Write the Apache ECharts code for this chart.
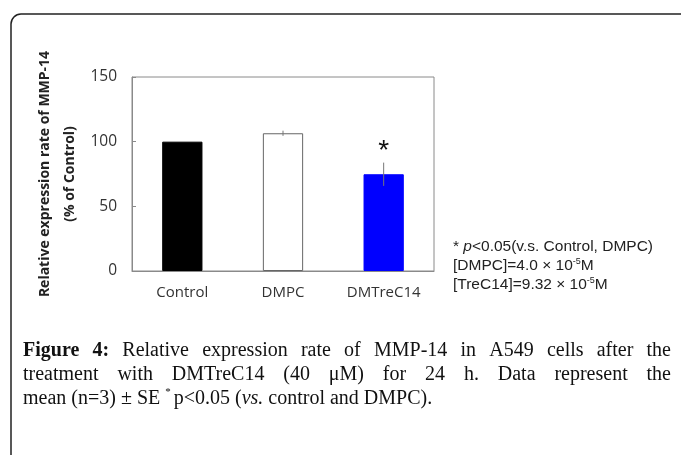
<!DOCTYPE html>
<html>
<head>
<meta charset="utf-8">
<script src="https://cdn.jsdelivr.net/npm/echarts@6/dist/echarts.min.js"></script>
<style>
  html, body { margin: 0; padding: 0; background: #fff; }
  #chart { width: 681px; height: 455px; }
</style>
</head>
<body>
<div id="chart"></div>
<script>
// data
var categories = ['Control', 'DMPC', 'DMTreC14'];
var meanValues = [100, 106.5, 74.8];
var seValues = [0, 2, 9];
var sigMarks = ['', '', '*'];
var barColors = ['#000000', '#ffffff', '#0000ff'];
var yMin = 0, yMax = 150, yStep = 50;

var noteLines = [
    '* {i|p}<0.05(v.s. Control, DMPC)',
    '[DMPC]=4.0 × 10{sup|-5}M',
    '[TreC14]=9.32 × 10{sup|-5}M'
];
var captionLine1 = [['Figure', 1], ['4:', 1], 'Relative', 'expression', 'rate', 'of', 'MMP-14', 'in', 'A549', 'cells', 'after', 'the'];
var captionLine2 = ['treatment', 'with', 'DMTreC14', '(40', 'μM)', 'for', '24', 'h.', 'Data', 'represent', 'the'];
var captionLine3 = 'mean (n=3) ± SE {sup|*}p<0.05 ({i|vs.} control and DMPC).';

var serif = '"Liberation Serif", "DejaVu Serif", serif';
var capSize = 20;
var sans = '"Liberation Sans", Arial, sans-serif';
var calib = '"Open Sans", "Noto Sans", sans-serif';

var myChart = echarts.init(document.getElementById('chart'), null, {renderer: 'canvas'});

// lay out a justified caption line word by word
var measureCtx = document.createElement('canvas').getContext('2d');
function justifyLine(words, y, x0, x1){
    var items = words.map(function(w){
        var txt = typeof w === 'string' ? w : w[0];
        var bold = typeof w !== 'string';
        measureCtx.font = (bold ? 'bold ' : '') + capSize + 'px ' + serif;
        return {txt: txt, bold: bold, w: measureCtx.measureText(txt).width};
    });
    var total = 0;
    items.forEach(function(it){ total += it.w; });
    var gap = (x1 - x0 - total) / (items.length - 1);
    var x = x0;
    var out = [];
    items.forEach(function(it){
        out.push({
            type: 'text',
            x: x, y: y,
            style: {
                text: it.txt,
                fontFamily: serif,
                fontSize: capSize,
                fontWeight: it.bold ? 'bold' : 'normal',
                fill: '#111',
                verticalAlign: 'middle'
            }
        });
        x += it.w + gap;
    });
    return out;
}

var graphics = [{
    type: 'rect',
    shape: {x: 11, y: 14, width: 720, height: 500, r: 10},
    style: {fill: 'none', stroke: '#222', lineWidth: 1.5},
    silent: true
}];
graphics = graphics.concat(justifyLine(captionLine1, 350.5, 23, 671));
graphics = graphics.concat(justifyLine(captionLine2, 374.5, 23, 671));
graphics.push({
    type: 'text',
    x: 23, y: 398.5,
    style: {
        text: captionLine3,
        fontFamily: serif,
        fontSize: capSize,
        fill: '#111',
        verticalAlign: 'middle',
        rich: {
            sup: {fontFamily: serif, fontSize: 11, fill: '#111', padding: [0, 3, 12, 0]},
            i: {fontFamily: serif, fontSize: capSize, fontStyle: 'italic', fill: '#111'}
        }
    }
});
noteLines.forEach(function(t, k){
    graphics.push({
        type: 'text',
        x: 453, y: 247 + k * 19,
        style: {
            text: t,
            fontFamily: sans,
            fontSize: 15.5,
            fill: '#222',
            verticalAlign: 'middle',
            rich: {
                i: {fontFamily: sans, fontSize: 15.5, fontStyle: 'italic', fill: '#222'},
                sup: {fontFamily: sans, fontSize: 9, fill: '#222', padding: [0, 0, 9, 0]}
            }
        }
    });
});

var option = {
    animation: false,
    backgroundColor: '#fff',
    grid: {
        left: 132, top: 77, right: 247, bottom: 184,
        show: true,
        borderColor: '#8a8a8a',
        borderWidth: 1
    },
    xAxis: {
        type: 'category',
        data: categories,
        axisLine: {lineStyle: {color: '#8a8a8a', width: 1}},
        axisTick: {inside: true, length: 4, lineStyle: {color: '#8a8a8a'}},
        axisLabel: {
            margin: 14,
            fontFamily: calib,
            fontSize: 15,
            color: '#333'
        }
    },
    yAxis: {
        type: 'value',
        min: yMin, max: yMax, interval: yStep,
        name: 'Relative expression rate of MMP-14\n(% of Control)',
        nameLocation: 'middle',
        nameGap: 49,
        nameRotate: 90,
        nameTextStyle: {
            fontFamily: calib,
            fontWeight: 'bold',
            fontSize: 14,
            lineHeight: 25,
            color: '#222'
        },
        splitLine: {show: false},
        axisLine: {show: true, lineStyle: {color: '#8a8a8a', width: 1}},
        axisTick: {show: true, inside: true, length: 4, lineStyle: {color: '#8a8a8a'}},
        axisLabel: {
            margin: 15,
            fontFamily: calib,
            fontSize: 15.5,
            color: '#333'
        }
    },
    series: [{
        type: 'bar',
        barWidth: '40%',
        data: meanValues.map(function(v, i){
            return {
                value: v,
                itemStyle: {
                    color: barColors[i],
                    borderColor: i === 1 ? '#666' : barColors[i],
                    borderWidth: 1
                }
            };
        })
    }, {
        type: 'custom',
        data: meanValues.map(function(v, i){ return [i, v, seValues[i]]; }),
        encode: {x: 0, y: 1},
        z: 5,
        renderItem: function(params, api){
            var i = api.value(0);
            var m = api.value(1);
            var se = api.value(2);
            var hi = api.coord([i, m + se]);
            var lo = api.coord([i, m - se]);
            var children = [];
            if (se > 0){
                children.push({
                    type: 'line',
                    shape: {x1: hi[0], y1: hi[1], x2: lo[0], y2: lo[1]},
                    style: {stroke: '#777', lineWidth: 1}
                });
            }
            var mark = sigMarks[params.dataIndex];
            if (mark){
                children.push({
                    type: 'text',
                    x: hi[0], y: hi[1] + 3,
                    style: {
                        text: mark,
                        fontFamily: sans,
                        fontSize: 28,
                        fill: '#111',
                        align: 'center',
                        verticalAlign: 'bottom'
                    }
                });
            }
            return {type: 'group', children: children};
        }
    }],
    graphic: graphics
};
myChart.setOption(option);
</script>
</body>
</html>
